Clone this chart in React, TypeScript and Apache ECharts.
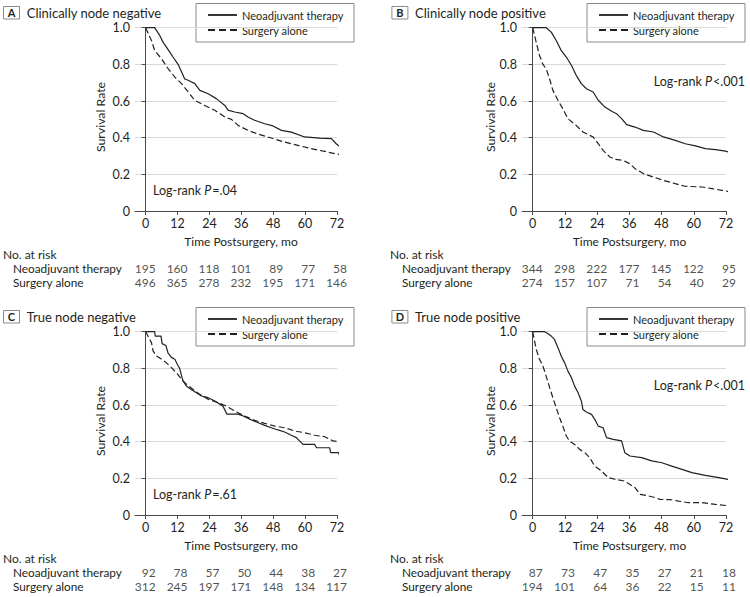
import React, { useEffect, useRef } from 'react';
import * as echarts from 'echarts';

const FONT = 'Lato, "Noto Sans", sans-serif';
const INK = '#231f20';
const AXIS = '#4a4a4a';
const GRIDC = '#d9d9d9';

const X_TICKS = [0, 12, 24, 36, 48, 60, 72];
const GROUPS = ['Neoadjuvant therapy', 'Surgery alone'];
const PANEL_LETTERS = ['A', 'B', 'C', 'D'];
const PANEL_TITLES = ['Clinically node negative', 'Clinically node positive', 'True node negative', 'True node positive'];
const P_VALUES = ['=.04', '<.001', '=.61', '<.001'];

// Kaplan-Meier traces [month, survival]
const aNeo = [[0,1],[3.4,1],[5.3,0.958],[6.6,0.92],[9.1,0.867],[10.3,0.84],[12.2,0.8],[13.5,0.76],[14.7,0.72],[16,0.713],[18.5,0.695],[20.4,0.658],[23.5,0.64],[26.6,0.613],[29.8,0.576],[31,0.55],[33.5,0.54],[36.7,0.531],[38.5,0.513],[41,0.495],[44.8,0.476],[47.9,0.464],[51.1,0.44],[54.8,0.43],[59.8,0.404],[65.5,0.398],[69.9,0.395],[71.7,0.367],[73.6,0.344]];
const aSurg = [[0,1],[2.2,0.93],[3.4,0.876],[6,0.83],[8.5,0.776],[11,0.73],[13.5,0.695],[16,0.65],[18.5,0.604],[22.2,0.576],[26,0.55],[29.8,0.513],[32.3,0.5],[34.8,0.467],[38.5,0.44],[42.3,0.42],[47.3,0.398],[52.3,0.376],[57.3,0.358],[62.3,0.34],[67.4,0.325],[71.1,0.313],[73.6,0.307]];
const bNeo = [[0,1],[5,1],[6.9,0.976],[8.75,0.93],[10.6,0.876],[12.5,0.84],[14.4,0.795],[16.2,0.74],[18.1,0.695],[20,0.667],[22.5,0.649],[24.4,0.604],[26.9,0.567],[29.4,0.544],[31.2,0.531],[33.1,0.504],[35,0.471],[38.1,0.458],[41.2,0.44],[45,0.431],[48.7,0.404],[53.1,0.385],[56.8,0.367],[60.6,0.355],[64.3,0.34],[68.1,0.335],[71.8,0.327],[74,0.318]];
const bSurg = [[0,1],[1.3,0.92],[2.5,0.85],[3.8,0.8],[5,0.776],[6.3,0.72],[7.5,0.658],[9.4,0.604],[11.2,0.558],[13.1,0.504],[16.2,0.467],[18.7,0.431],[22.5,0.404],[24.4,0.367],[26.2,0.331],[28.7,0.295],[30.6,0.282],[33.7,0.276],[36.2,0.258],[38.1,0.231],[41.2,0.204],[45,0.185],[48.7,0.167],[53.1,0.149],[56.8,0.135],[63.1,0.131],[66.8,0.122],[70.5,0.113],[74,0.104]];
const cNeo = [[0,1],[3.4,1],[3.6,0.976],[5.8,0.976],[6.2,0.935],[7.6,0.925],[8.4,0.885],[9.7,0.86],[11,0.85],[12,0.82],[12.8,0.8],[13.5,0.76],[14.1,0.73],[15.4,0.703],[17.2,0.685],[19.1,0.667],[21,0.649],[23.5,0.64],[26,0.622],[29.1,0.594],[30.6,0.55],[34.8,0.55],[36.7,0.54],[39.2,0.522],[41.7,0.507],[44.8,0.489],[47.3,0.476],[49.8,0.464],[52.3,0.453],[54.8,0.435],[56.7,0.422],[59.2,0.385],[63.6,0.385],[64.3,0.367],[69.2,0.367],[69.6,0.34],[72.6,0.34],[73.4,0.304]];
const cSurg = [[0,1],[2.2,0.94],[2.8,0.895],[4.1,0.867],[6,0.85],[7.8,0.83],[9.7,0.804],[11.6,0.776],[13.5,0.74],[15.4,0.713],[17.9,0.685],[20.4,0.658],[23.5,0.631],[27.3,0.613],[30.4,0.594],[33.5,0.567],[37.3,0.54],[41,0.516],[44.8,0.5],[48.6,0.485],[52.3,0.476],[56.1,0.458],[59.8,0.449],[63.6,0.435],[67.4,0.427],[70.5,0.404],[73.6,0.398]];
const dNeo = [[0,1],[4.4,1],[5.6,0.99],[6.9,0.976],[8.1,0.958],[9.4,0.913],[10.6,0.867],[11.9,0.83],[13.1,0.785],[14.4,0.75],[15.6,0.703],[16.9,0.667],[18.1,0.622],[18.7,0.576],[20,0.562],[21.9,0.549],[23.1,0.522],[24.4,0.485],[26.2,0.476],[27.5,0.422],[30,0.413],[33.1,0.404],[34.3,0.34],[36.2,0.322],[40.6,0.313],[44.3,0.295],[48.1,0.285],[51.8,0.267],[55.6,0.249],[59.3,0.231],[64.3,0.216],[69.3,0.204],[73.7,0.191]];
const dSurg = [[0,1],[1.3,0.904],[2.5,0.85],[3.8,0.813],[5,0.758],[6.3,0.695],[7.5,0.64],[8.75,0.585],[10,0.531],[11.2,0.485],[12.5,0.431],[13.7,0.404],[15.6,0.385],[17.5,0.358],[19.4,0.34],[21.2,0.313],[23.1,0.267],[25.6,0.24],[28.1,0.204],[30.6,0.195],[34.3,0.185],[36.2,0.167],[38.1,0.149],[40,0.113],[43.1,0.104],[45.6,0.095],[47.5,0.085],[51.2,0.084],[54.3,0.076],[58.1,0.067],[63.1,0.067],[68.1,0.058],[73.7,0.049]];

// Numbers at risk at 0, 12, ..., 72 months
const aRiskNeo = [195, 160, 118, 101, 89, 77, 58];
const aRiskSurg = [496, 365, 278, 232, 195, 171, 146];
const bRiskNeo = [344, 298, 222, 177, 145, 122, 95];
const bRiskSurg = [274, 157, 107, 71, 54, 40, 29];
const cRiskNeo = [92, 78, 57, 50, 44, 38, 27];
const cRiskSurg = [312, 245, 197, 171, 148, 134, 117];
const dRiskNeo = [87, 73, 47, 35, 27, 21, 18];
const dRiskSurg = [194, 101, 64, 36, 22, 15, 11];

const CURVES = [[aNeo, aSurg], [bNeo, bSurg], [cNeo, cSurg], [dNeo, dSurg]];
const RISKS = [[aRiskNeo, aRiskSurg], [bRiskNeo, bRiskSurg], [cRiskNeo, cRiskSurg], [dRiskNeo, dRiskSurg]];

function buildOption() {
  const grid: any[] = [];
  const xAxis: any[] = [];
  const yAxis: any[] = [];
  const series: any[] = [];
  const graphic: any[] = [];
  const txt = (size: number) => ({ fontSize: size, fontFamily: FONT, color: INK });

  for (let i = 0; i < 4; i++) {
    const col = i % 2;
    const dy = Math.floor(i / 2) * 304;
    grid.push({ left: col ? 522 : 135, top: 27.7 + dy, width: col ? 204 : 202, height: 183.3 });
  }
  for (let i = 0; i < 4; i++) {
    const col = i % 2;
    const dy = Math.floor(i / 2) * 304;
    grid.push({ left: col ? 522 : 135, top: 261 + dy, width: col ? 204 : 202, height: 28 });
  }

  for (let i = 0; i < 4; i++) {
    xAxis.push({
      gridIndex: i, type: 'value', min: -4, max: 72,
      axisLine: { show: true, onZero: false, lineStyle: { color: AXIS, width: 1 } },
      axisTick: { show: true, customValues: X_TICKS, length: 4, lineStyle: { color: AXIS } },
      axisLabel: { customValues: X_TICKS, margin: 6, ...txt(12.5) },
      splitLine: { show: false },
    });
    yAxis.push({
      gridIndex: i, type: 'value', min: 0, max: 1, interval: 0.2,
      axisLine: { show: true, lineStyle: { color: AXIS, width: 1 } },
      axisTick: { show: true, length: 4, lineStyle: { color: AXIS } },
      axisLabel: { margin: 5, formatter: (v: number) => (v === 0 ? '0' : v.toFixed(1)), ...txt(12.5) },
      splitLine: { show: true, lineStyle: { color: GRIDC, width: 1 } },
    });
  }
  for (let i = 0; i < 4; i++) {
    const col = i % 2;
    xAxis.push({ gridIndex: 4 + i, type: 'value', min: -4, max: 72, show: false });
    yAxis.push({
      gridIndex: 4 + i, type: 'category', data: GROUPS, inverse: true,
      axisLine: { show: false }, axisTick: { show: false }, splitLine: { show: false },
      axisLabel: { interval: 0, align: 'left', margin: col ? 120 : 122, ...txt(11.8) },
    });
  }

  for (let i = 0; i < 4; i++) {
    CURVES[i].forEach((curve, g) => {
      series.push({
        type: 'line', name: GROUPS[g], xAxisIndex: i, yAxisIndex: i,
        data: curve, symbol: 'none', showSymbol: false, clip: false, silent: true,
        lineStyle: { color: INK, width: 1.2, type: g === 0 ? 'solid' : [6, 3] },
      });
    });
    RISKS[i].forEach((vals, g) => {
      series.push({
        type: 'scatter', name: 'risk-' + i + '-' + g, xAxisIndex: 4 + i, yAxisIndex: 4 + i,
        data: X_TICKS.map((t, k) => [t, GROUPS[g], vals[k]]),
        symbolSize: 0, silent: true, clip: false,
        label: {
          show: true, position: 'inside', align: 'right', verticalAlign: 'middle', offset: [10, 0],
          formatter: (p: any) => String(p.value[2]), ...txt(12),
        },
      });
    });
  }

  const T = (x: number, y: number, text: string, size: number, extra: any = {}) => ({
    type: 'text', x, y, silent: true,
    style: { text, fill: INK, font: `${extra.weight || 'normal'} ${size}px ${FONT}`, textAlign: extra.align || 'left', textVerticalAlign: 'middle' },
    rotation: extra.rotation || 0,
  });

  for (let i = 0; i < 4; i++) {
    const col = i % 2;
    const dy = Math.floor(i / 2) * 304;
    const ox = col ? 388.4 : 0;
    graphic.push({ type: 'rect', shape: { x: 3.5 + ox, y: 6.5 + dy, width: 16, height: 12.5 }, style: { fill: '#fff', stroke: '#8a8a8a', lineWidth: 1 }, silent: true });
    graphic.push(T(11.5 + ox, 12.8 + dy, PANEL_LETTERS[i], 11, { weight: 'bold', align: 'center' }));
    graphic.push(T(26.7 + ox, 12.5 + dy, PANEL_TITLES[i], 13));
    graphic.push(T(col ? 490 : 100, 117 + dy, 'Survival Rate', 12.3, { align: 'center', rotation: Math.PI / 2 }));
    graphic.push(T(col ? 629.5 : 241, 241 + dy, 'Time Postsurgery, mo', 12, { align: 'center' }));
    graphic.push(T(col ? 390 : 3, 254 + dy, 'No. at risk', 12));
    const lx = col ? 391 : 0;
    graphic.push({ type: 'rect', shape: { x: 196 + lx, y: 3.5 + dy, width: 158, height: 38.5 }, style: { fill: '#fff', stroke: '#8a8a8a', lineWidth: 1 }, silent: true });
    graphic.push({ type: 'line', shape: { x1: 208 + lx, y1: 15 + dy, x2: 237 + lx, y2: 15 + dy }, style: { stroke: INK, lineWidth: 1.8 }, silent: true });
    graphic.push({ type: 'line', shape: { x1: 208 + lx, y1: 30 + dy, x2: 237 + lx, y2: 30 + dy }, style: { stroke: INK, lineWidth: 1.8, lineDash: [7, 4] }, silent: true });
    graphic.push(T(242 + lx, 15 + dy, GROUPS[0], 11));
    graphic.push(T(242 + lx, 30 + dy, GROUPS[1], 11));
    const pos = col ? { x: 745, y: 81 + dy, align: 'right' } : { x: 153, y: 190 + dy, align: 'left' };
    graphic.push({
      type: 'text', x: pos.x, y: pos.y, silent: true,
      style: {
        text: '{n|Log-rank }{i|P}{n|' + P_VALUES[i] + '}',
        textAlign: pos.align, textVerticalAlign: 'middle',
        rich: {
          n: { fontSize: 12.5, fontFamily: FONT, fill: INK, color: INK },
          i: { fontSize: 12.5, fontFamily: FONT, fontStyle: 'italic', fill: INK, color: INK, padding: [0, 1, 0, 0] },
        },
      },
    });
  }

  return {
    animation: false,
    backgroundColor: '#fff',
    grid, xAxis, yAxis, series, graphic,
  };
}

export default function App() {
  const ref = useRef<HTMLDivElement>(null);
  useEffect(() => {
    if (!ref.current) return;
    const chart = echarts.init(ref.current, undefined, { renderer: 'svg' });
    chart.setOption(buildOption() as any);
    return () => chart.dispose();
  }, []);
  return <div ref={ref} style={{ position: 'fixed', left: 0, top: 0, width: 750, height: 597, background: '#fff' }} />;
}
